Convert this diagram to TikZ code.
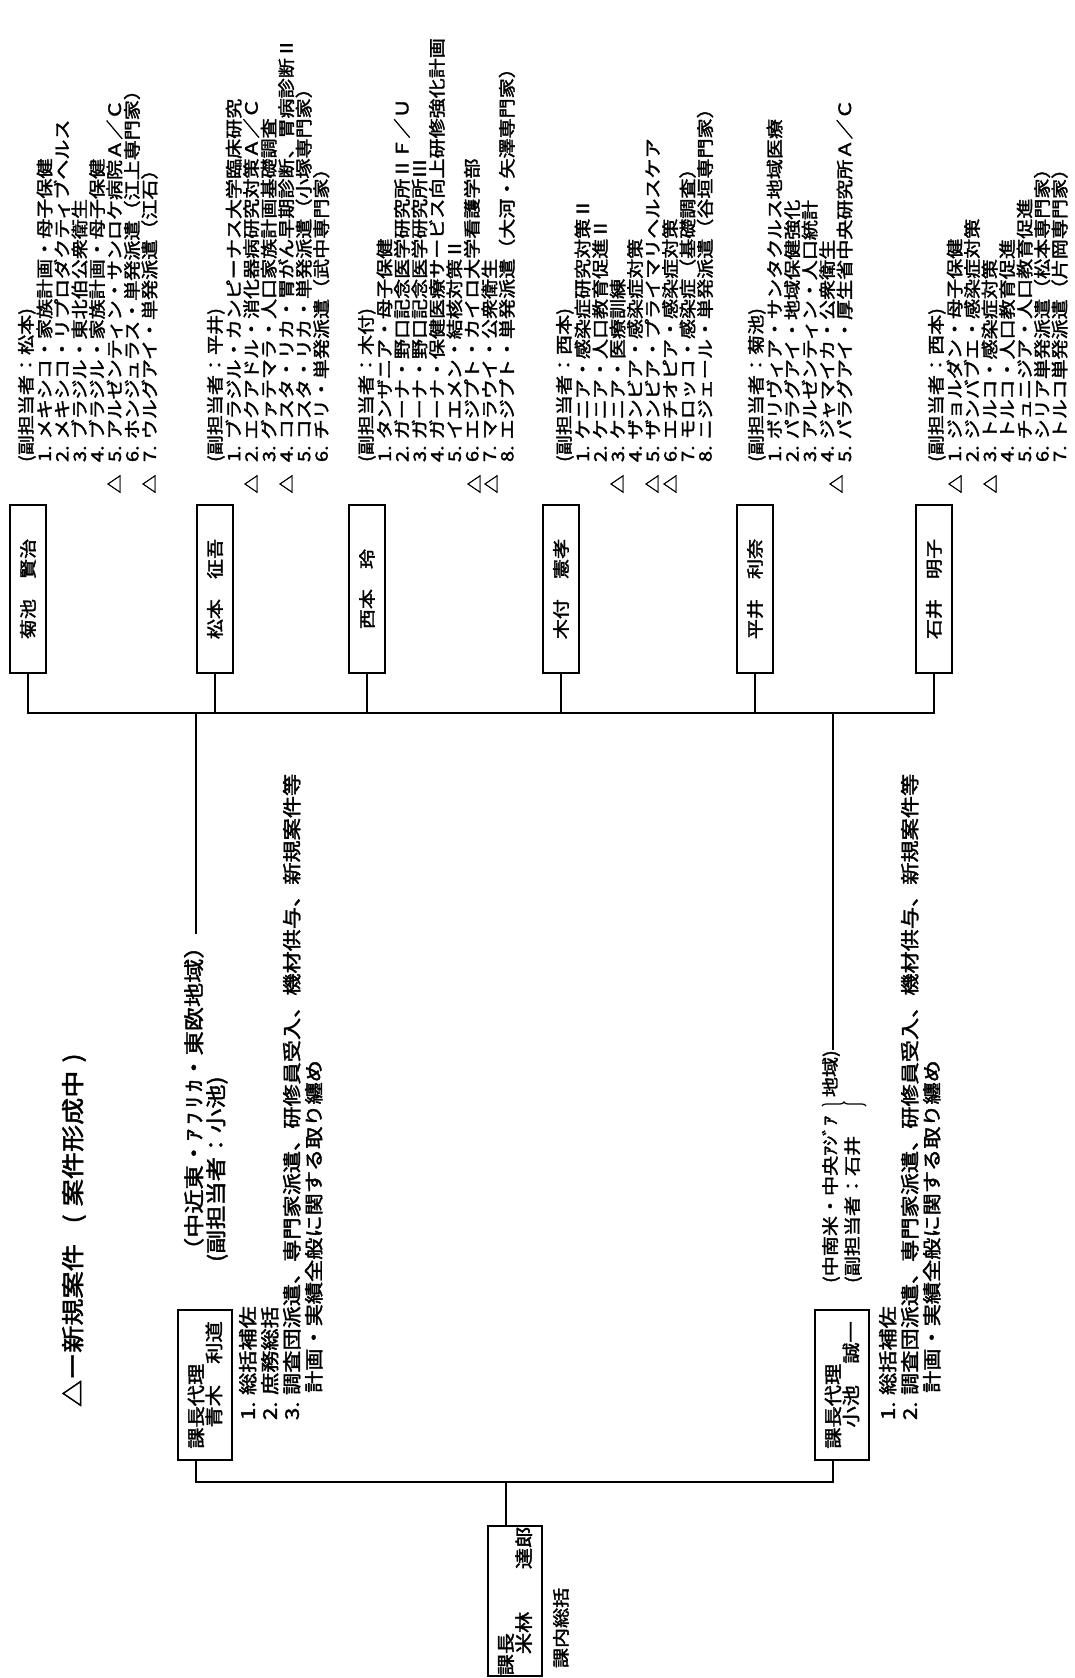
\documentclass[tikz,border=0pt]{standalone}
\usepackage{fontspec}
\setmainfont{Noto Sans CJK JP}[FakeStretch=1.18,FakeBold=2]
\usetikzlibrary{decorations.pathreplacing}
\begin{document}
\begin{tikzpicture}[x=1pt,y=-1pt,
  every node/.style={inner sep=0pt, outer sep=0pt},
  lw/.style={line width=1.7pt},
  staff/.style={draw, line width=1.7pt, rotate=90, minimum width=168pt, minimum height=36pt, font=\fontsize{17}{18}\selectfont},
  deputy/.style={draw, line width=1.7pt, rotate=90, minimum width=150pt, minimum height=54pt, align=left, font=\fontsize{18}{18}\selectfont},
  lst/.style={rotate=90, anchor=north west, align=left, font=\fontsize{17}{17.5}\selectfont},
  regA/.style={rotate=90, anchor=north west, align=left, font=\fontsize{20.5}{22}\selectfont},
  regB/.style={rotate=90, anchor=north west, align=left, font=\fontsize{17}{22}\selectfont},
  dlst/.style={rotate=90, anchor=north west, align=left, font=\fontsize{18.8}{22}\selectfont},
  tri/.style={rotate=90, font=\fontsize{16}{16}\selectfont},
  brc/.style={decorate, decoration={brace, amplitude=4pt}, line width=1.2pt},
]
\fill[white] (0,0) rectangle (1075,1678);
\useasboundingbox (0,0) rectangle (1075,1678);

% staff boxes
\node[staff] (kikuchi) at (28,589) {菊池　賢治};
\node[staff] (matsumoto) at (215,589) {松本　征吾};
\node[staff] (nishimoto) at (367,589) {西本　玲};
\node[staff] (kitsuki) at (561,589) {木付　憲孝};
\node[staff] (hirai) at (755,589) {平井　利奈};
\node[staff] (ishii) at (934,589) {石井　明子};

\coordinate (bus) at (0,713);
\draw[lw] (kikuchi.west) |- (ishii.west |- bus) -- (ishii.west);
\foreach \n in {matsumoto,nishimoto,kitsuki,hirai} \draw[lw] (\n.west) -- (\n.west |- bus);

% lists
\node[lst] (Lkikuchi) at (18,462) {(副担当者：松本)\\1. メキシコ・家族計画・母子保健\\2. メキシコ・リプロダクティブヘルス\\3. ブラジル・東北伯公衆衛生\\4. ブラジル・家族計画・母子保健\\5. アルゼンティン・サンロケ病院Ａ／Ｃ\\6. ホンジュラス・単発派遣（江上専門家）\\7. ウルグアイ・単発派遣（江石）};
\node[lst] (Lmatsumoto) at (207,462) {(副担当者：平井)\\1. ブラジル・カンピーナス大学臨床研究\\2. エクアドル・消化器病研究対策Ａ／Ｃ\\3. グァテマラ・人口家族計画基礎調査\\4. コスタ・リカ・胃がん早期診断、胃病診断Ⅱ\\5. コスタ・リカ・単発派遣（小塚専門家）\\6. チリ・単発派遣（武中専門家）};
\node[lst] (Lnishimoto) at (358,462) {(副担当者：木付)\\1. タンザニア・母子保健\\2. ガーナ・野口記念医学研究所ⅡＦ／Ｕ\\3. ガーナ・野口記念医学研究所Ⅲ\\4. ガーナ・保健医療サービス向上研修強化計画\\5. イエメン・結核対策Ⅱ\\6. エジプト・カイロ大学看護学部\\7. マラウイ・公衆衛生\\8. エジプト・単発派遣（大河・矢澤専門家）};
\node[lst] (Lkitsuki) at (556,462) {(副担当者：西本)\\1. ケニア・感染症研究対策Ⅱ\\2. ケニア・人口教育促進Ⅱ\\3. ケニア・医療訓練\\4. ザンビア・感染症対策\\5. ザンビア・プライマリヘルスケア\\6. エチオピア・感染症対策\\7. モロッコ・感染症（基礎調査）\\8. ニジェール・単発派遣（谷垣専門家）};
\node[lst] (Lhirai) at (748,462) {(副担当者：菊池)\\1. ボリヴィア・サンタクルス地域医療\\2. パラグアイ・地域保健強化\\3. アルゼンティン・人口統計\\4. ジャマイカ・公衆衛生\\5. パラグアイ・厚生省中央研究所Ａ／Ｃ};
\node[lst] (Lishii) at (928,462) {(副担当者：西本)\\1. ジョルダン・母子保健\\2. ジンバブエ・感染症対策\\3. トルコ・感染症対策\\4. トルコ・人口教育促進\\5. チュニジア・人口教育促進\\6. シリア単発派遣（松本専門家）\\7. トルコ単発派遣（片岡専門家）};

% triangles
\foreach \i/\xx in {t1/114,t2/149,t3/251,t4/286,t5/474,t6/491,t7/617,t8/652,t9/670,t10/836,t11/955,t12/990}
  \node[tri] (\i) at (\xx,484) {△};

% legend
\node[rotate=90, anchor=north west, font=\fontsize{23}{23}\selectfont] (legend) at (62,1407) {△ー新規案件\hspace{0.9em}(\hspace{0.35em}案件形成中\hspace{0.35em})};

% region texts
\node[regA] (regA) at (184,1262) {（中近東・\makebox[3em][s]{ｱ\hfil ﾌ\hfil ﾘ\hfil ｶ}・東欧地域）\\(副担当者：小池)};
\node[regB] (regB) at (822,1283) {(中南米・中央ｱｼﾞｱ\hspace{1.1em}地域)\\(副担当者：石井};
\draw[brc] (822,1106) -- (866,1106);
\coordinate (ja) at (196,713);
\coordinate (jb) at (833,713);
\draw[lw] (ja) -- (ja |- regA.east);
\draw[lw] (jb) -- (jb |- regB.east);

% deputies and chief
\node[deputy] (aoki) at (205,1385) {課長代理\\　青木　利道};
\node[deputy] (koike) at (842,1385) {課長代理\\　小池　誠一};
\node[deputy, minimum width=150pt] (kacho) at (515,1601) {課長\\　米林　　達郎};
\node[lst] (kanai) at (553,1668) {課内総括};

\coordinate (jc) at (196,1482);
\coordinate (jd) at (833,1482);
\coordinate (je) at (506,1482);
\draw[lw] (aoki.west -| jc) -- (jc) -- (jd) -- (koike.west -| jd);
\draw[lw] (je) -- (kacho.east -| je);

\node[dlst] (Daoki) at (239,1420) {1. 総括補佐\\2. 庶務総括\\3. 調査団派遣、専門家派遣、研修員受入、機材供与、新規案件等\\　 計画・実績全般に関する取り纏め};
\node[dlst] (Dkoike) at (879,1420) {1. 総括補佐\\2. 調査団派遣、専門家派遣、研修員受入、機材供与、新規案件等\\　 計画・実績全般に関する取り纏め};
\end{tikzpicture}
\end{document}
